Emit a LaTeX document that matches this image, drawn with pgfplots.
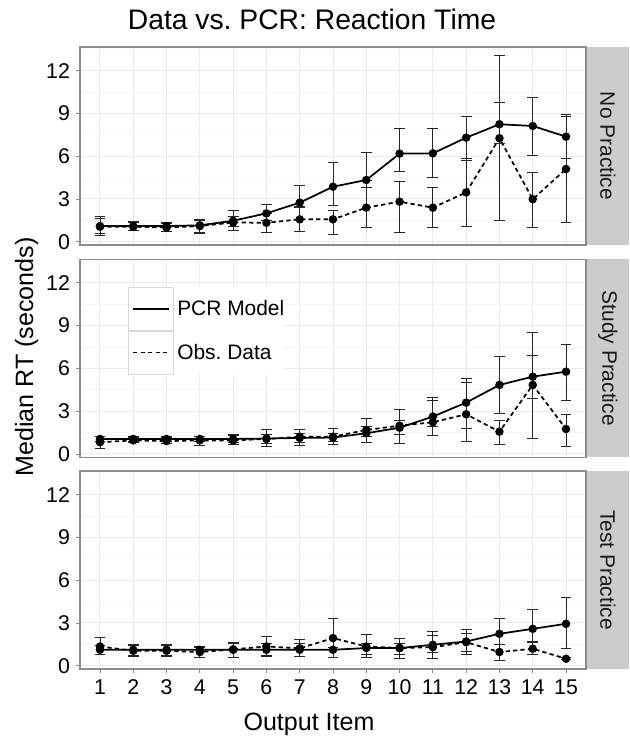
\documentclass[border=0pt]{standalone}
\usepackage{pgfplots}
\usepackage{pgfplotstable}
\pgfplotsset{compat=1.18}
\usepackage{fontspec}
\setmainfont{Liberation Sans}
\frenchspacing
\definecolor{gridmaj}{HTML}{EBEBEB}
\definecolor{gridmin}{HTML}{F5F5F5}
\definecolor{border}{HTML}{8C8C8C}
\definecolor{stripfill}{HTML}{CCCCCC}
\definecolor{striptext}{HTML}{1A1A1A}
\newcommand{\titlefont}{\fontsize{21.2}{25}\selectfont}
\newcommand{\labelfont}{\fontsize{18.8}{22}\selectfont}
\newcommand{\tickfont}{\fontsize{16}{19}\selectfont}
\newcommand{\stripfont}{\fontsize{15.7}{18}\selectfont}
\newcommand{\legfont}{\fontsize{15.7}{18}\selectfont}

% No Practice
\pgfplotstableread{
x y lo hi
1 1.10 0.47 1.80
2 1.10 0.77 1.40
3 1.10 0.70 1.35
4 1.15 0.65 1.50
5 1.47 1.10 2.18
6 1.99 1.50 2.62
7 2.74 2.40 3.93
8 3.86 2.58 5.54
9 4.33 3.82 6.25
10 6.18 4.95 7.96
11 6.20 4.52 7.96
12 7.30 5.68 8.77
13 8.24 6.90 9.78
14 8.12 6.08 10.10
15 7.37 5.85 8.94
}\npPCR
\pgfplotstableread{
x y lo hi
1 1.05 0.55 1.65
2 1.05 0.80 1.35
3 1.00 0.70 1.30
4 1.10 0.60 1.55
5 1.35 0.82 1.80
6 1.33 0.63 2.00
7 1.57 0.75 2.45
8 1.57 0.54 2.18
9 2.39 0.98 4.30
10 2.81 0.66 4.21
11 2.39 1.01 3.79
12 3.46 1.05 5.85
13 7.26 1.52 13.05
14 2.98 1.01 4.89
15 5.10 1.33 8.82
}\npObs
% Study Practice
\pgfplotstableread{
x y lo hi
1 1.05 0.90 1.25
2 1.05 0.90 1.20
3 1.05 0.90 1.20
4 1.05 0.85 1.25
5 1.05 0.80 1.30
6 1.08 0.75 1.40
7 1.12 0.80 1.45
8 1.15 0.90 1.45
9 1.45 1.20 1.90
10 1.84 1.35 2.35
11 2.62 1.90 3.95
12 3.60 1.80 5.30
13 4.84 2.85 6.82
14 5.42 3.90 6.94
15 5.77 3.74 7.71
}\spPCR
\pgfplotstableread{
x y lo hi
1 0.82 0.40 1.20
2 0.95 0.80 1.15
3 0.90 0.75 1.15
4 0.95 0.63 1.20
5 0.95 0.70 1.40
6 1.05 0.56 1.75
7 1.20 0.63 1.75
8 1.21 0.68 1.80
9 1.68 0.82 2.50
10 1.98 0.75 3.15
11 2.22 1.33 3.78
12 2.78 0.91 5.05
13 1.56 0.68 2.33
14 4.84 1.10 8.53
15 1.75 0.56 2.80
}\spObs
% Test Practice
\pgfplotstableread{
x y lo hi
1 1.12 0.77 1.40
2 1.12 0.65 1.47
3 1.12 0.65 1.47
4 1.12 0.58 1.35
5 1.12 0.60 1.66
6 1.12 0.70 1.60
7 1.12 0.65 1.60
8 1.12 0.58 1.30
9 1.24 0.80 1.60
10 1.24 0.80 1.60
11 1.47 0.90 2.40
12 1.70 1.00 2.52
13 2.24 1.47 3.34
14 2.59 1.70 3.92
15 2.94 1.24 4.79
}\tpPCR
\pgfplotstableread{
x y lo hi
1 1.35 0.80 1.98
2 1.05 0.70 1.40
3 1.05 0.70 1.40
4 0.96 0.58 1.30
5 1.15 0.60 1.60
6 1.35 0.65 2.05
7 1.22 0.65 1.82
8 1.94 0.58 3.29
9 1.35 0.58 2.17
10 1.24 0.54 1.89
11 1.30 0.54 2.10
12 1.65 0.82 2.30
13 0.96 0.35 1.47
14 1.19 0.82 1.66
15 0.49 0.42 0.56
}\tpObs

\pgfplotsset{
  panel/.style={
    scale only axis, width=379.5pt, height=148.5pt,
    xmin=0.4, xmax=15.6, ymin=-0.23, ymax=13.66,
    xtick={1,...,15}, ytick={0,3,6,9,12},
    minor ytick={1.5,4.5,7.5,10.5,13.5},
    grid=both,
    major grid style={gridmaj, line width=0.75pt},
    minor grid style={gridmin, line width=0.75pt},
    axis line style={border, line width=0.8pt},
    tick align=outside, major tick length=3pt, minor tick length=0pt,
    tick style={border, line width=0.6pt},
    tick pos=left,
    ticklabel style={font=\tickfont, text=black},
    yticklabel style={xshift=-1pt},
    xticklabel style={yshift=-1.5pt},
    /pgf/number format/assume math mode=true,
    clip=false,
    anchor=north west,
  },
  pcr/.style={black, line width=1.3pt, solid, mark=*, mark size=2.5pt,
    mark options={solid, fill=black}},
  obs/.style={black, line width=1.3pt, dash pattern=on 3.2pt off 2.4pt, mark=*, mark size=2.5pt,
    mark options={solid, fill=black}},
  eb/.style={error bars/.cd, y dir=both, y explicit,
    error bar style={line width=0.6pt, black!85, solid},
    error mark options={line width=0.6pt, black!85, solid, mark size=4.1pt, rotate=90}},
}
\newcommand{\series}[2]{%
  \addplot[#1, eb] table[x=x, y=y, y error plus expr=\thisrow{hi}-\thisrow{y},
    y error minus expr=\thisrow{y}-\thisrow{lo}] {#2};}
\newcommand{\strip}[1]{%
  \fill[stripfill] ([xshift=0.4pt]rel axis cs:1,0) rectangle ([xshift=32.5pt]rel axis cs:1,1);
  \node[rotate=-90, font=\stripfont, text=striptext] at ([xshift=16.3pt]rel axis cs:1,0.5) {#1};}

\begin{document}
\begin{tikzpicture}
\useasboundingbox (0pt,0pt) rectangle (471.75pt,-552pt);

\begin{axis}[panel, at={(60pt,-35.25pt)}, xticklabels={}, xtick style={draw=none}]
\series{obs}{\npObs}
\series{pcr}{\npPCR}
\strip{No Practice}
\end{axis}

\begin{axis}[panel, at={(60pt,-194.4pt)}, xticklabels={}, xtick style={draw=none},
  legend style={at={(0.0949,0.860)}, anchor=north west, draw=none, fill=white,
    inner sep=0pt, row sep=0pt, font=\legfont,
    nodes={inner sep=0pt, anchor=west},
    /tikz/every odd column/.append style={column sep=2.5pt}},
  legend cell align=left,
  legend image code/.code={%
    \draw[draw=gray!30, solid, line width=0.5pt, fill=white] (0pt,-16.1pt) rectangle (33.75pt,16.1pt);
    \draw[#1] (3.4pt,0pt) -- (30.3pt,0pt);}]
\series{pcr}{\spPCR}
\addlegendentry{PCR Model\hspace{4pt}}
\series{obs}{\spObs}
\addlegendentry{Obs. Data}
\strip{Study Practice}
\end{axis}

\begin{axis}[panel, at={(60pt,-353.25pt)}]
\series{obs}{\tpObs}
\series{pcr}{\tpPCR}
\strip{Test Practice}
\end{axis}

\node[anchor=base, font=\titlefont] at (234pt,-22pt) {Data vs. PCR: Reaction Time};
\node[anchor=base, font=\labelfont] at (231.75pt,-547.5pt) {Output Item};
\node[anchor=base, rotate=90, font=\labelfont] at (24.75pt,-267.75pt) {Median RT (seconds)};
\end{tikzpicture}
\end{document}
